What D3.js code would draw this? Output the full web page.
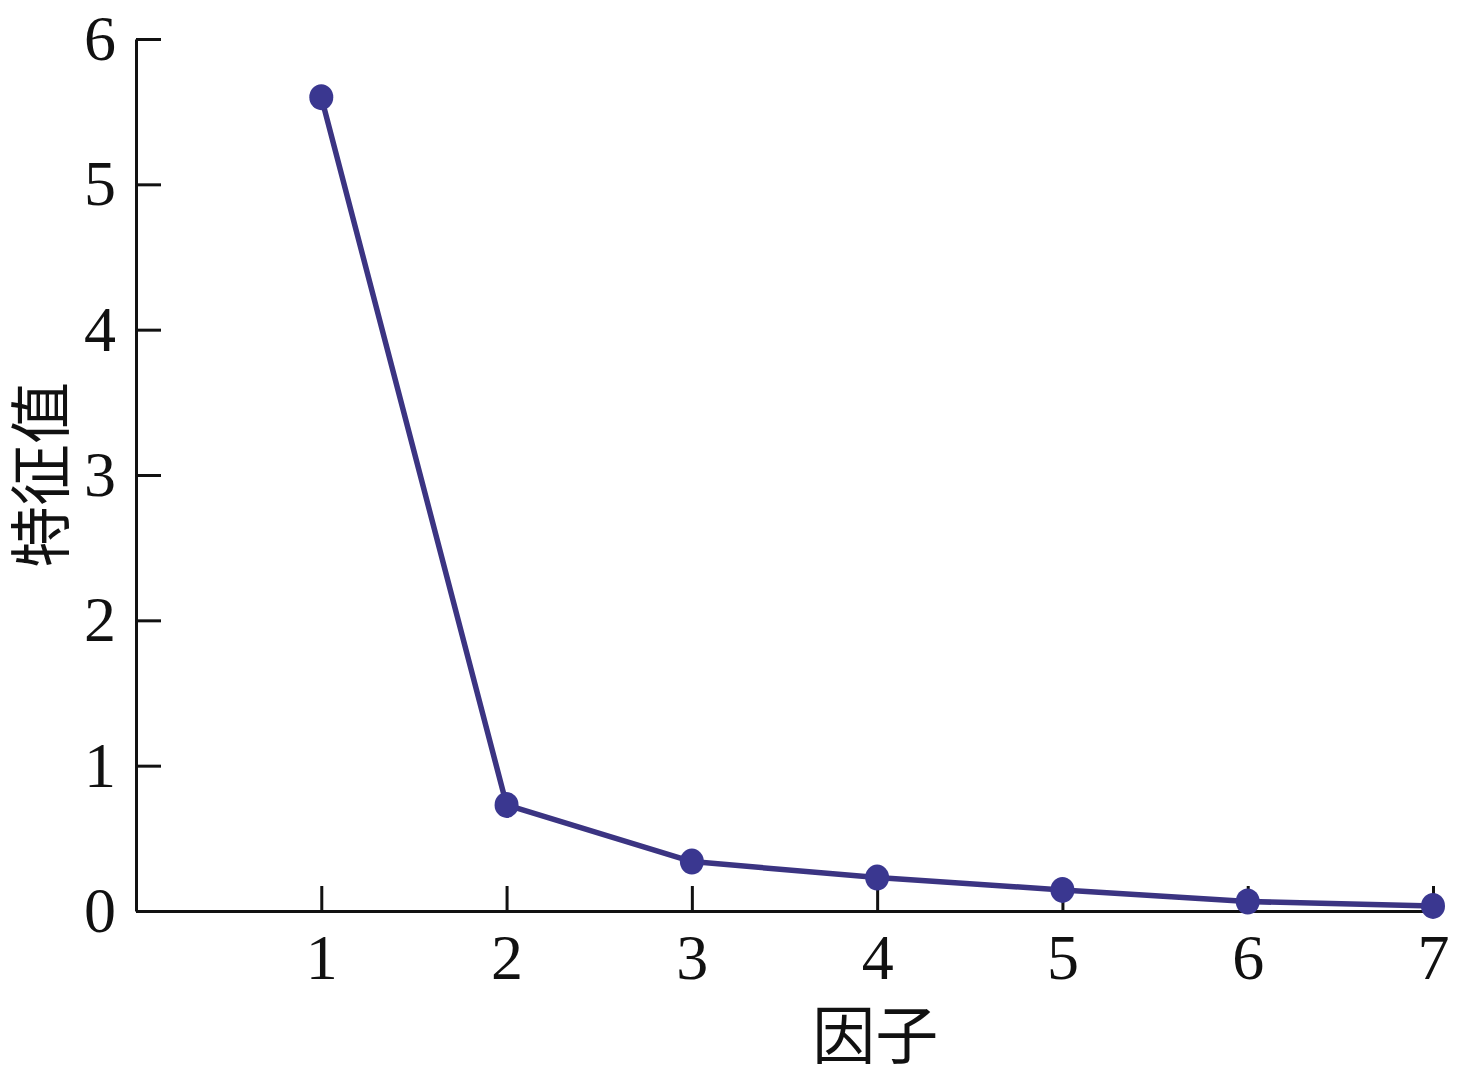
<!DOCTYPE html>
<html>
<head>
<meta charset="utf-8">
<script src="https://cdn.jsdelivr.net/npm/d3@7"></script>
<style>
  body { margin: 0; background: #fff; }
  svg { display: block; }
</style>
</head>
<body>
<div id="chart"></div>
<script>
// factor numbers and eigenvalues
const factors = [1, 2, 3, 4, 5, 6, 7];
const eigenvalues = [5.6, 0.73, 0.34, 0.23, 0.145, 0.065, 0.035];
const yTicks = [0, 1, 2, 3, 4, 5, 6];
const xLabel = "因子";
const yLabel = "特征值";

const W = 1460, H = 1077;
const margin = {top: 39, right: 27, bottom: 166, left: 136};

const svg = d3.select("#chart").append("svg")
  .attr("width", W)
  .attr("height", H);

// scales
const x = d3.scaleLinear().domain([0, 7]).range([margin.left, W - margin.right]);
const y = d3.scaleLinear().domain([0, 6]).range([H - margin.bottom, margin.top]);

const lineColor = "#3b3482";
const dotColor = "#3a3790";
const numFont = "'Times New Roman', 'Liberation Serif', Tinos, serif";

// y axis, ticks point inward
const yAxis = svg.append("g")
  .attr("transform", `translate(${margin.left},0)`)
  .call(d3.axisRight(y).tickValues(yTicks).tickSize(25).tickSizeOuter(0).tickFormat(d3.format("d")));
yAxis.select(".domain").attr("stroke", "#111").attr("stroke-width", 3);
yAxis.selectAll(".tick line").attr("stroke", "#111").attr("stroke-width", 3);
yAxis.selectAll(".tick text")
  .attr("x", -20)
  .attr("dy", "0.32em")
  .attr("text-anchor", "end")
  .style("font-family", numFont)
  .style("font-size", "64px")
  .attr("fill", "#111");

// x axis, ticks point up
const xAxis = svg.append("g")
  .attr("transform", `translate(0,${y(0)})`)
  .call(d3.axisTop(x).tickValues(factors).tickSize(25).tickSizeOuter(0).tickFormat(d3.format("d")));
xAxis.select(".domain").attr("stroke", "#111").attr("stroke-width", 3);
xAxis.selectAll(".tick line").attr("stroke", "#111").attr("stroke-width", 3);
xAxis.selectAll(".tick text")
  .attr("y", 68)
  .attr("dy", 0)
  .style("font-family", numFont)
  .style("font-size", "64px")
  .attr("fill", "#111");

// axis titles
svg.append("text")
  .attr("x", x(4) - 2)
  .attr("y", 1058)
  .attr("text-anchor", "middle")
  .style("font-family", "'Noto Sans CJK SC', sans-serif")
  .style("font-size", "63px")
  .attr("fill", "#111")
  .text(xLabel);

svg.append("text")
  .attr("transform", `translate(64,${y(3)}) rotate(-90)`)
  .attr("text-anchor", "middle")
  .style("font-family", "'Noto Sans CJK SC', sans-serif")
  .style("font-size", "62px")
  .attr("fill", "#111")
  .text(yLabel);

// the line
const data = factors.map((f, i) => ({f: f, v: eigenvalues[i]}));
const line = d3.line().x(d => x(d.f)).y(d => y(d.v));

svg.append("path")
  .datum(data)
  .attr("fill", "none")
  .attr("stroke", lineColor)
  .attr("stroke-width", 5.5)
  .attr("stroke-linejoin", "round")
  .attr("d", line);

// points
svg.selectAll(".dot")
  .data(data)
  .enter().append("ellipse")
  .attr("class", "dot")
  .attr("cx", d => x(d.f))
  .attr("cy", d => y(d.v))
  .attr("rx", 12)
  .attr("ry", 13)
  .attr("fill", dotColor);
</script>
</body>
</html>
